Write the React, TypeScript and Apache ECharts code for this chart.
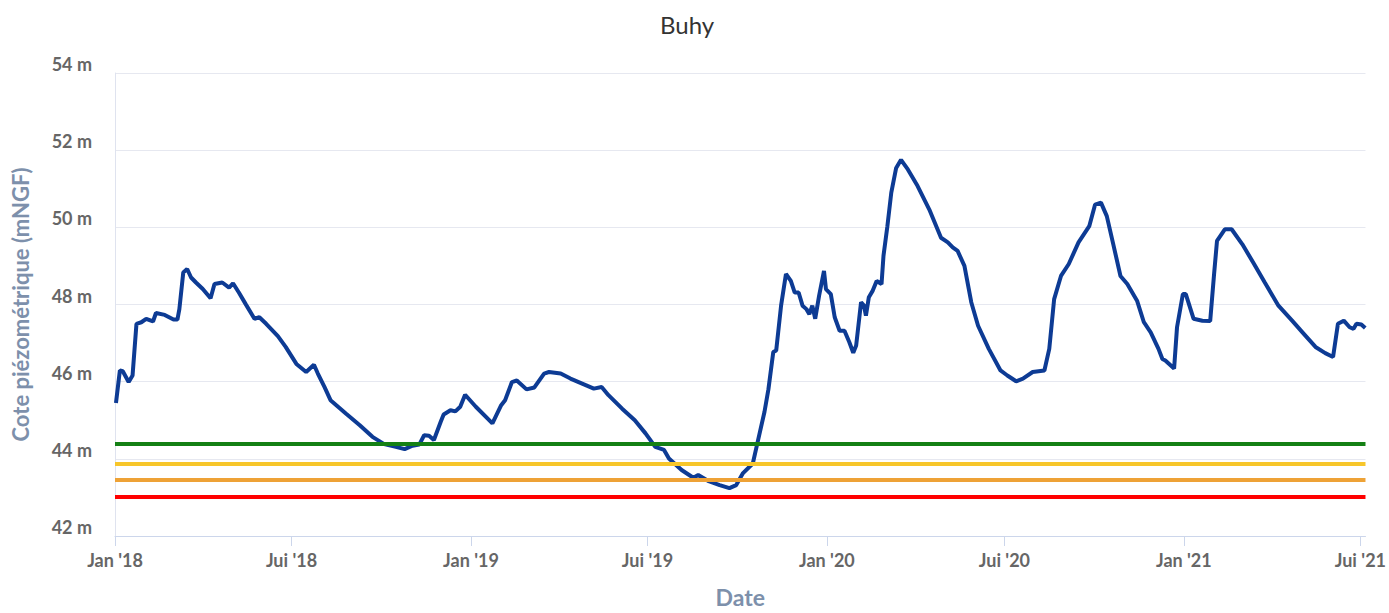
import React, { useEffect, useRef } from 'react';
import * as echarts from 'echarts';

const chartTitle = 'Buhy';
const yAxisTitle = 'Cote piézométrique (mNGF)';
const xAxisTitle = 'Date';

const dates = [
  '2018-01-02', '2018-01-06', '2018-01-09', '2018-01-15', '2018-01-19', '2018-01-23', '2018-01-28',
  '2018-02-02', '2018-02-09', '2018-02-12', '2018-02-21', '2018-03-02', '2018-03-06', '2018-03-08',
  '2018-03-12', '2018-03-16', '2018-03-20', '2018-03-25', '2018-04-01', '2018-04-09', '2018-04-13',
  '2018-04-21', '2018-04-28', '2018-05-02', '2018-05-08', '2018-05-15', '2018-05-24', '2018-05-29',
  '2018-06-05', '2018-06-17', '2018-06-25', '2018-07-06', '2018-07-16', '2018-07-24', '2018-07-28',
  '2018-08-04', '2018-08-10', '2018-08-26', '2018-09-09', '2018-09-22', '2018-10-04', '2018-10-16',
  '2018-10-25', '2018-11-02', '2018-11-09', '2018-11-14', '2018-11-19', '2018-11-24', '2018-12-01',
  '2018-12-04', '2018-12-11', '2018-12-16', '2018-12-21', '2018-12-26',
  '2019-01-06', '2019-01-23', '2019-02-01', '2019-02-05', '2019-02-12', '2019-02-17', '2019-02-27',
  '2019-03-07', '2019-03-17', '2019-03-22', '2019-04-03', '2019-04-13', '2019-04-25', '2019-05-07',
  '2019-05-15', '2019-05-22', '2019-06-05', '2019-06-18', '2019-06-29', '2019-07-09', '2019-07-18',
  '2019-07-23', '2019-08-05', '2019-08-17', '2019-08-22', '2019-09-01', '2019-09-13', '2019-09-23',
  '2019-09-30', '2019-10-07', '2019-10-17', '2019-10-22', '2019-10-29', '2019-11-02', '2019-11-07',
  '2019-11-10', '2019-11-15', '2019-11-20', '2019-11-25', '2019-11-29', '2019-12-03', '2019-12-07',
  '2019-12-11', '2019-12-14', '2019-12-17', '2019-12-20', '2019-12-24', '2019-12-29', '2019-12-31',
  '2020-01-05', '2020-01-09', '2020-01-14', '2020-01-19', '2020-01-24', '2020-01-28', '2020-01-31',
  '2020-02-05', '2020-02-08', '2020-02-10', '2020-02-13', '2020-02-17', '2020-02-21', '2020-02-26',
  '2020-02-28', '2020-03-03', '2020-03-07', '2020-03-12', '2020-03-17', '2020-03-24', '2020-04-03',
  '2020-04-15', '2020-04-27', '2020-05-04', '2020-05-09', '2020-05-14', '2020-05-21', '2020-05-28',
  '2020-06-04', '2020-06-15', '2020-06-27', '2020-07-04', '2020-07-13', '2020-07-20', '2020-07-30',
  '2020-08-11', '2020-08-16', '2020-08-21', '2020-08-28', '2020-09-05', '2020-09-15', '2020-09-26',
  '2020-10-02', '2020-10-08', '2020-10-14', '2020-10-21', '2020-10-28', '2020-11-04', '2020-11-14',
  '2020-11-21', '2020-11-28', '2020-12-06', '2020-12-10', '2020-12-13', '2020-12-22', '2020-12-25',
  '2020-12-31',
  '2021-01-03', '2021-01-11', '2021-01-20', '2021-01-28', '2021-02-01', '2021-02-04', '2021-02-12',
  '2021-02-19', '2021-03-02', '2021-03-14', '2021-03-25', '2021-04-08', '2021-04-22', '2021-05-04',
  '2021-05-16', '2021-05-26', '2021-06-03', '2021-06-08', '2021-06-14', '2021-06-20', '2021-06-24',
  '2021-06-27', '2021-07-02', '2021-07-06',
];

const levels = [
  45.45, 46.29, 46.27, 45.99, 46.16, 47.5, 47.54,
  47.63, 47.56, 47.78, 47.73, 47.61, 47.61, 47.88,
  48.83, 48.92, 48.7, 48.57, 48.4, 48.16, 48.53,
  48.57, 48.44, 48.55, 48.31, 48.01, 47.63, 47.67,
  47.5, 47.18, 46.9, 46.46, 46.25, 46.44, 46.21,
  45.85, 45.52, 45.17, 44.87, 44.57, 44.38, 44.31,
  44.25, 44.34, 44.37, 44.61, 44.6, 44.49, 44.96,
  45.15, 45.26, 45.23, 45.35, 45.66,
  45.35, 44.92, 45.39, 45.52, 45.99, 46.03, 45.8,
  45.85, 46.21, 46.25, 46.21, 46.08, 45.95, 45.82,
  45.86, 45.65, 45.3, 45.0, 44.66, 44.31, 44.23,
  44.01, 43.71, 43.51, 43.58, 43.43, 43.32, 43.24,
  43.32, 43.63, 43.88, 44.44, 45.22, 45.8, 46.77,
  46.81, 47.97, 48.79, 48.61, 48.31, 48.31, 47.97,
  47.88, 47.75, 47.97, 47.63, 48.23, 48.87, 48.4,
  48.27, 47.67, 47.32, 47.32, 47.02, 46.75, 46.94,
  48.06, 47.97, 47.71, 48.19, 48.36, 48.61, 48.53,
  49.26, 50.03, 50.9, 51.54, 51.75, 51.5, 51.07,
  50.46, 49.73, 49.61, 49.48, 49.39, 49.0, 48.06,
  47.45, 46.85, 46.29, 46.16, 46.01, 46.08, 46.25,
  46.29, 46.85, 48.14, 48.74, 49.05, 49.61, 50.03,
  50.59, 50.64, 50.29, 49.52, 48.74, 48.53, 48.1,
  47.54, 47.28, 46.85, 46.59, 46.55, 46.34, 47.41,
  48.27,
  48.27, 47.63, 47.58, 47.57, 48.79, 49.65, 49.95,
  49.95, 49.56, 49.05, 48.57, 47.97, 47.58, 47.24,
  46.9, 46.74, 46.64, 47.5, 47.58, 47.41, 47.37,
  47.5, 47.48, 47.39,
];

const thresholdValues = [44.38, 43.87, 43.45, 43.01];
const thresholdColors = ['#148014', '#f7c62a', '#eea236', '#ff0000'];

const yMin = 42;
const yMax = 54;
const yStep = 2;
const xStart = new Date(2018, 0, 1).getTime();
const xEnd = new Date(2021, 6, 6, 6).getTime();
const monthNames: Record<number, string> = { 0: 'Jan', 6: 'Jui' };

const FONT = 'Lato, "Open Sans", sans-serif';
const TITLE_COLOR = '#7d90ab';
const LABEL_COLOR = '#666666';

export default function App() {
  const ref = useRef<HTMLDivElement>(null);

  useEffect(() => {
    if (!ref.current) return;
    const chart = echarts.init(ref.current, undefined, { renderer: 'svg' });
    const DAY = 24 * 3600 * 1000;
    chart.setOption({
      animation: false,
      backgroundColor: '#ffffff',
      title: {
        text: chartTitle,
        left: 655,
        top: 7,
        textStyle: { fontFamily: FONT, fontSize: 24, fontWeight: 'normal', color: '#333333' },
      },
      grid: { left: 115, right: 20, top: 73, bottom: 75, containLabel: false },
      xAxis: {
        type: 'time',
        min: xStart,
        max: xEnd,
        minInterval: 180 * DAY,
        maxInterval: 186 * DAY,
        name: xAxisTitle,
        nameLocation: 'middle',
        nameGap: 49,
        nameTextStyle: { fontFamily: FONT, fontSize: 23, fontWeight: 'bold', color: TITLE_COLOR },
        axisLine: { show: true, lineStyle: { color: '#ccd6eb', width: 1 } },
        axisTick: { show: true, length: 10, lineStyle: { color: '#ccd6eb' } },
        splitLine: { show: false },
        axisLabel: {
          fontFamily: FONT,
          fontSize: 18,
          fontWeight: 'bold',
          color: LABEL_COLOR,
          margin: 15,
          hideOverlap: false,
          formatter: (v: number) => {
            const d = new Date(v);
            const name = monthNames[d.getMonth()] ?? '';
            return name + " '" + String(d.getFullYear()).slice(2);
          },
        },
      },
      yAxis: {
        type: 'value',
        min: yMin,
        max: yMax,
        interval: yStep,
        name: yAxisTitle,
        nameLocation: 'middle',
        nameGap: 84,
        nameTextStyle: { fontFamily: FONT, fontSize: 22, fontWeight: 'bold', color: TITLE_COLOR },
        axisLine: { show: true, lineStyle: { color: '#dfe3ef', width: 1 } },
        axisTick: { show: false },
        splitLine: { show: true, lineStyle: { color: '#e6e8f0', width: 1 } },
        axisLabel: {
          fontFamily: FONT,
          fontSize: 18,
          fontWeight: 'bold',
          color: LABEL_COLOR,
          margin: 23,
          verticalAlign: 'bottom',
          lineHeight: 18,
          formatter: '{value} m',
        },
      },
      series: [
        {
          type: 'line',
          name: 'seuils',
          data: [],
          z: 1,
          silent: true,
          markLine: {
            silent: true,
            symbol: ['none', 'none'],
            label: { show: false },
            data: thresholdValues.map((v, i) => ({
              yAxis: v,
              lineStyle: { color: thresholdColors[i], width: 4, type: 'solid' },
            })),
          },
        },
        {
          type: 'line',
          name: 'Cote piézométrique',
          z: 3,
          showSymbol: false,
          smooth: false,
          lineStyle: { color: '#0d3b94', width: 4 },
          itemStyle: { color: '#0d3b94' },
          data: dates.map((d, i) => [d, levels[i]]),
        },
      ],
    });
    return () => chart.dispose();
  }, []);

  return (
    <div
      ref={ref}
      style={{ position: 'fixed', left: 0, top: 0, width: 1389, height: 613, background: '#fff' }}
    />
  );
}
